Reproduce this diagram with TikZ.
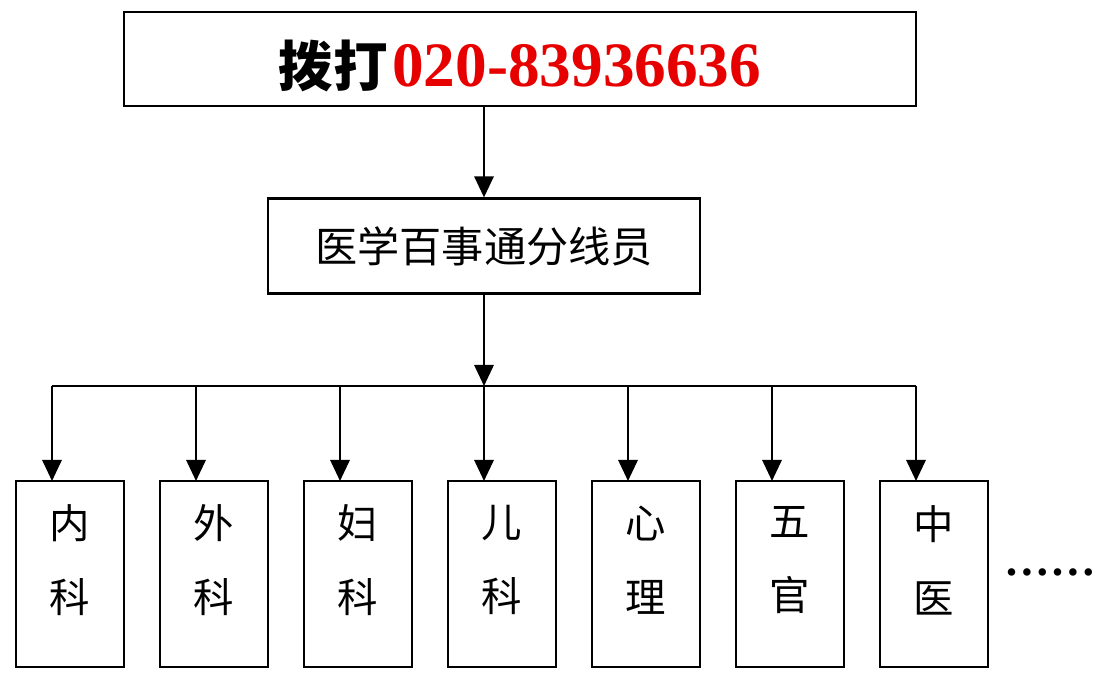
\documentclass[tikz,border=0pt]{standalone}
\usepackage{fontspec}
\setmainfont{Liberation Serif}
\newfontfamily\cjk{Noto Sans CJK SC}
\usetikzlibrary{arrows.meta,positioning}
\definecolor{numred}{RGB}{230,0,0}

\begin{document}
\begin{tikzpicture}[x=0.02cm,y=-0.02cm]
	\tikzset{box/.style={draw, line width=1.3pt, inner sep=0pt},
		dept/.style={box, minimum width=2.16cm, minimum height=3.72cm, align=center, font=\cjk\fontsize{23}{42}\selectfont},
		arr/.style={line width=1.3pt, -{Triangle[length=12pt,width=11pt]}}}
	\useasboundingbox (0,0) rectangle (1115,681);
	\draw [box] (124,12) rectangle (916,106);
	\node (call) at (520,66)
		{{\cjk\bfseries\fontsize{31}{33}\selectfont 拨打} \textcolor{numred}{\bfseries\fontsize{36}{38}\selectfont 020-83936636}};
	\node [box, minimum width=8.64cm, minimum height=1.9cm, font=\cjk\fontsize{24}{26}\selectfont] (op) at (484,246) {医学百事通分线员};
	\draw [arr] (484,106) -- (op.north);
	\coordinate (bus) at (484,386);
	\draw [arr] (op.south) -- (bus);
	\draw [line width=1.3pt] (52,386) -- (916,386);
	\foreach \t [count=\i from 0] in {内\\科, 外\\科, 妇\\科, 儿\\科, 心\\理, 五\\官, 中\\医} {
		\draw [box] (16+144*\i,481) rectangle (124+144*\i,667);
		\node [align=center, font=\cjk\fontsize{23}{42}\selectfont] (d\i) at (70+144*\i,560) {\t};
		\draw [arr] (52+144*\i,386) -- (52+144*\i,481);
	}
	\node [font=\bfseries\fontsize{26}{26}\selectfont] (more) at (1050,572) {……};
\end{tikzpicture}
\end{document}
